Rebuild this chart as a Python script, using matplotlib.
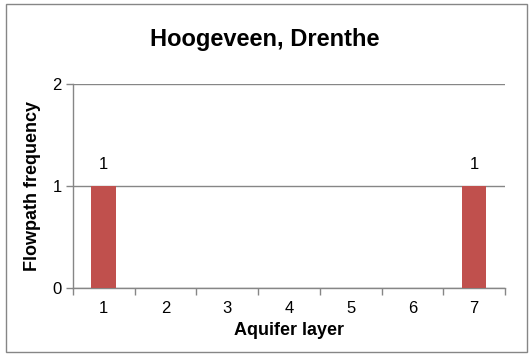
import matplotlib.pyplot as plt
from matplotlib.patches import Rectangle

plt.rcParams['font.family'] = ['Liberation Sans', 'DejaVu Sans']

layers = ['1', '2', '3', '4', '5', '6', '7']
frequency = [1, 0, 0, 0, 0, 0, 1]

grey = '#868686'

fig = plt.figure(figsize=(5.3, 3.56), dpi=100)
ax = fig.add_axes([0.1377, 0.191, 0.8151, 0.573])

x = range(len(layers))
bars = ax.bar(x, frequency, width=0.4, color='#C0504D', zorder=3)
ax.bar_label(bars, labels=[str(v) if v else '' for v in frequency],
             padding=10, fontsize=12)

ax.set_xlim(-0.5, len(layers) - 0.5)
ax.set_ylim(0, 2)
ax.set_yticks([0, 1, 2])
ax.set_xticks(list(x))
ax.set_xticklabels(layers)
ax.set_xticks([i - 0.5 for i in range(len(layers) + 1)], minor=True)
ax.tick_params(axis='x', which='major', length=0, pad=9, labelsize=12)
ax.tick_params(axis='x', which='minor', length=5, width=1, color=grey, direction='out')
ax.tick_params(axis='y', length=5, width=1, color=grey, labelsize=12, pad=3)

ax.grid(axis='y', color=grey, linewidth=1, zorder=0)
for side in ['top', 'right']:
    ax.spines[side].set_visible(False)
for side in ['left', 'bottom']:
    ax.spines[side].set_color(grey)
    ax.spines[side].set_linewidth(1)

# title is centred on the whole chart, not the plot area
fig.text(0.5, 0.888, 'Hoogeveen, Drenthe', fontsize=17, fontweight='bold',
         ha='center', va='center')
ax.set_xlabel('Aquifer layer', fontsize=13, fontweight='bold', labelpad=5)
ax.set_ylabel('Flowpath frequency', fontsize=13, fontweight='bold', labelpad=8)

# chart border
fig.patches.append(Rectangle((0.011, 0.011), 0.983, 0.978, transform=fig.transFigure,
                             fill=False, edgecolor=grey, linewidth=1))

fig.savefig('out.png', dpi=100)
